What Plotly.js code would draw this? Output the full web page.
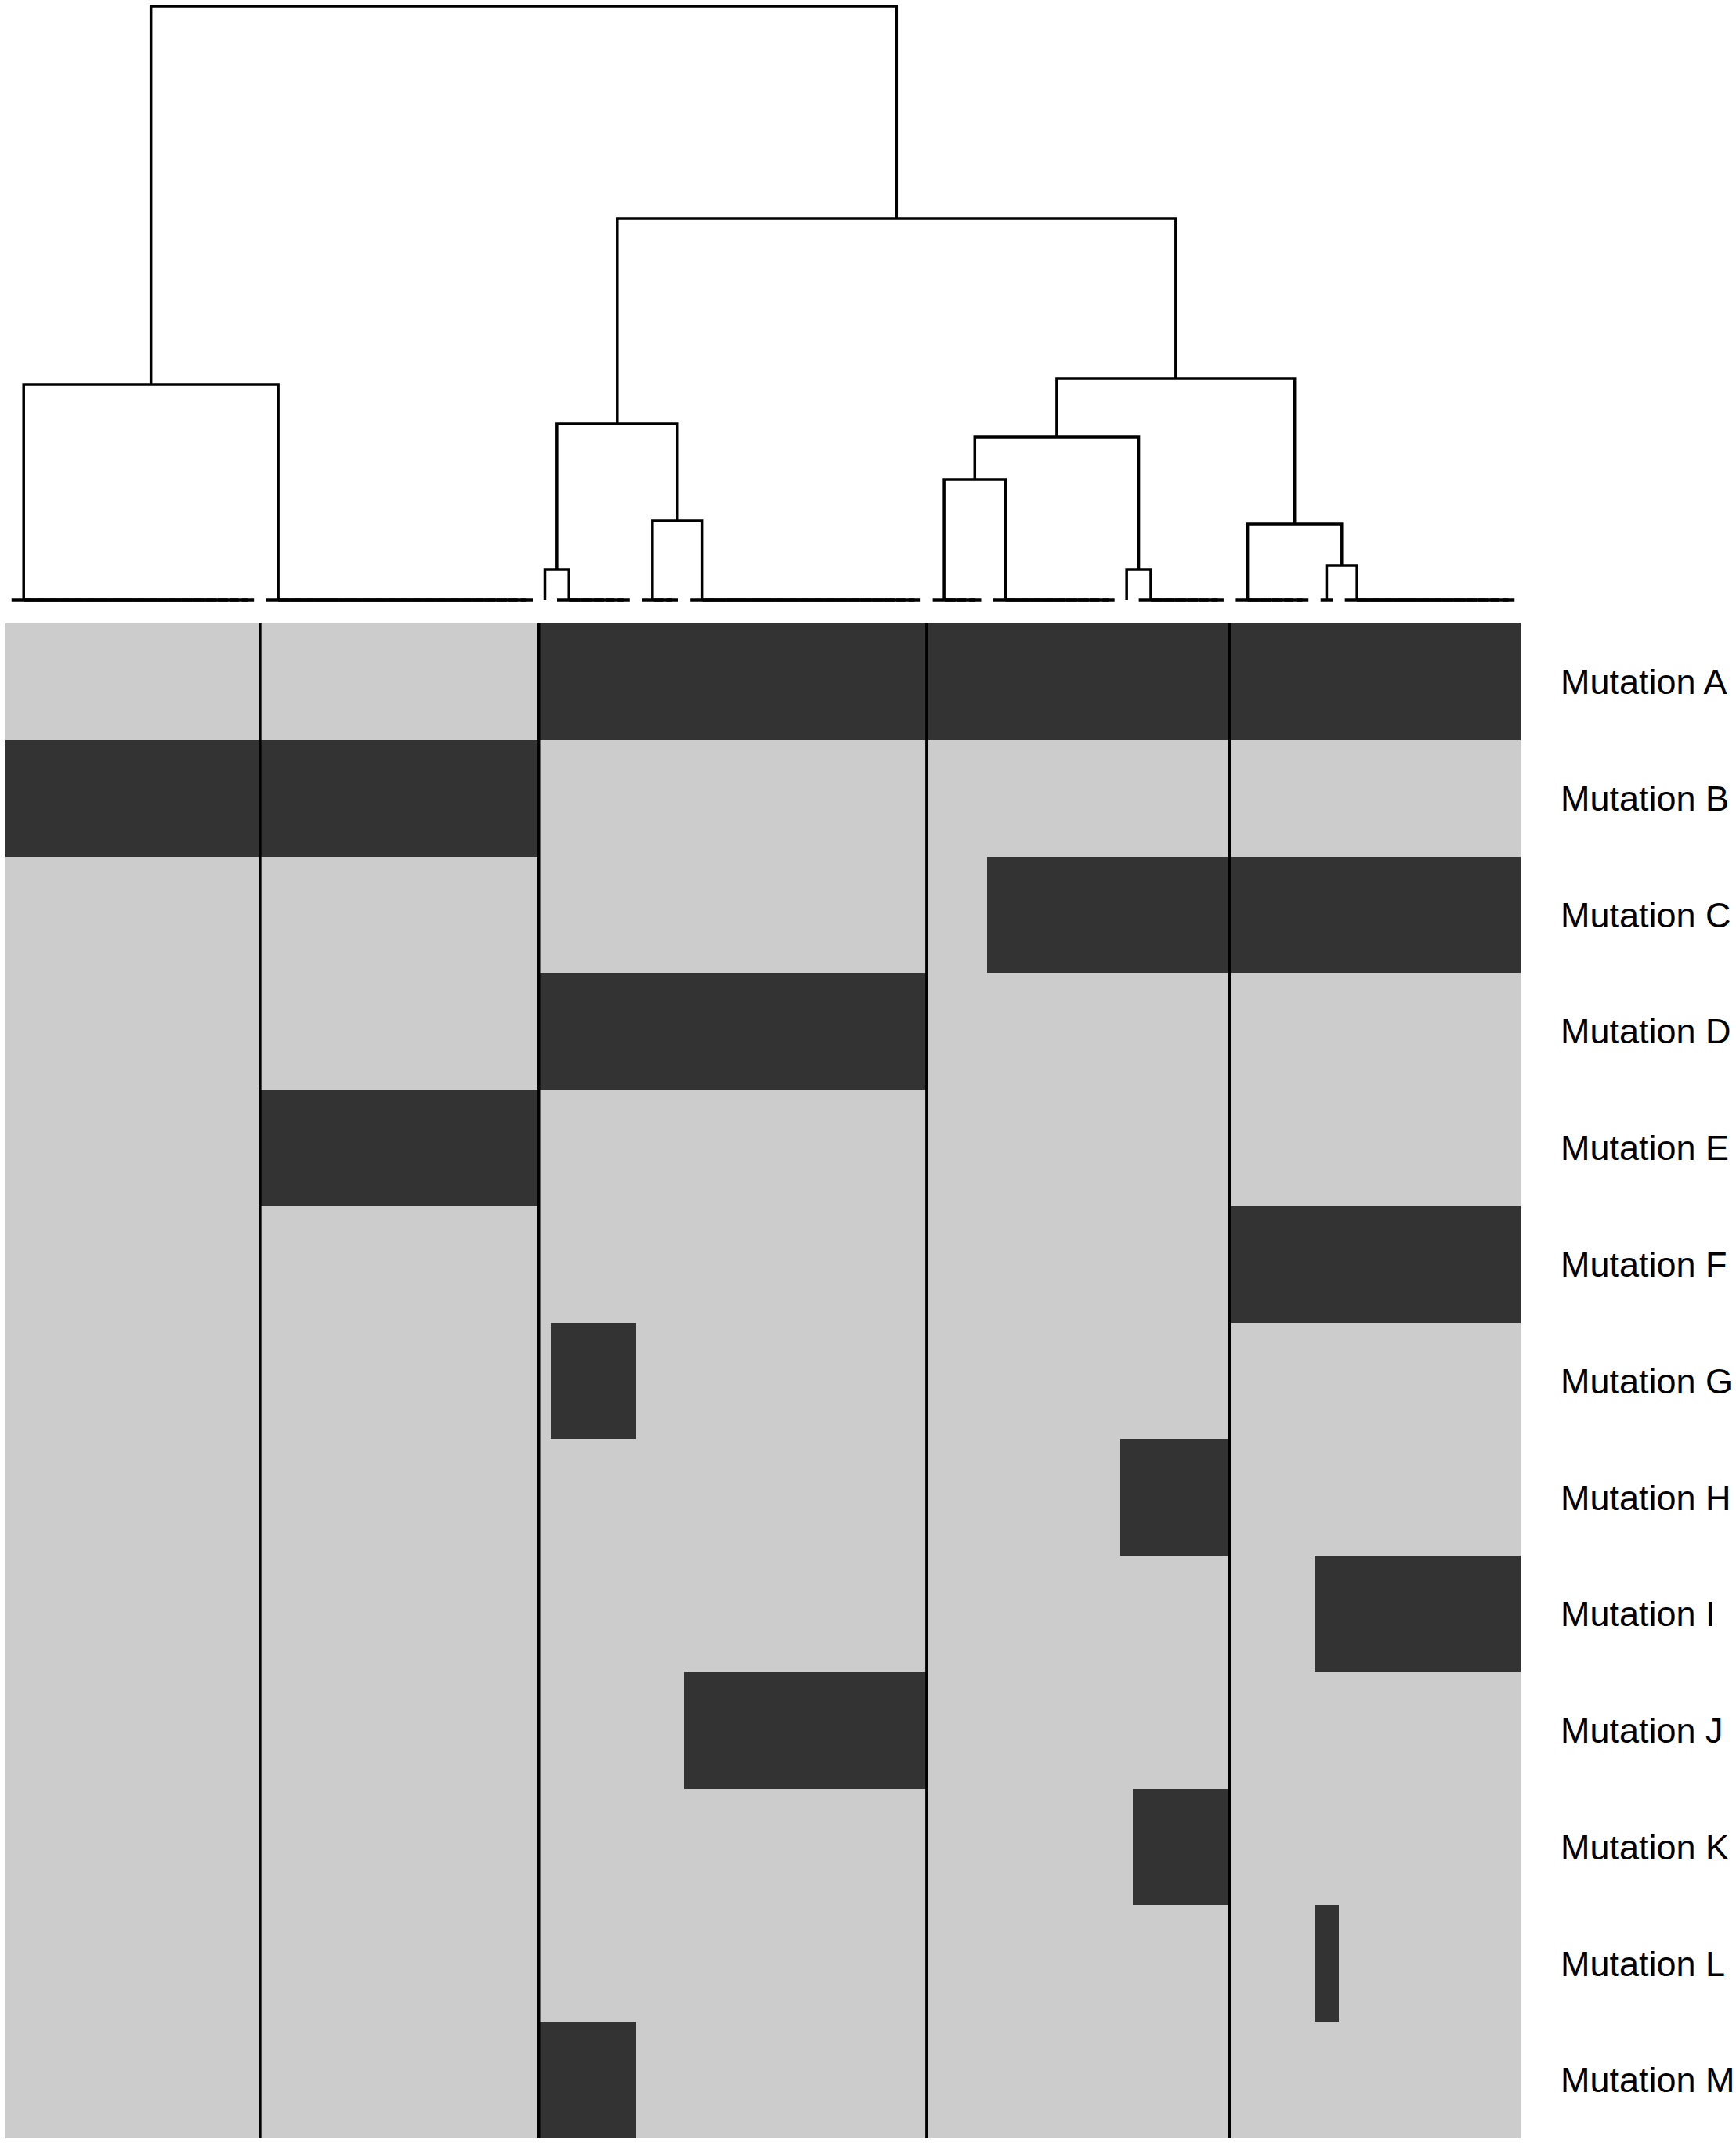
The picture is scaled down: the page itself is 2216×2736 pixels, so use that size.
<!DOCTYPE html>
<html><head><meta charset="utf-8">
<script src="https://cdn.plot.ly/plotly-3.0.1.min.js"></script>
<style>html,body{margin:0;padding:0;background:#fff}</style>
</head><body><div id="chart" style="width:2216px;height:2736px"></div>
<script>
// ---- data ----
const mutations = ['Mutation A','Mutation B','Mutation C','Mutation D','Mutation E','Mutation F','Mutation G',
                   'Mutation H','Mutation I','Mutation J','Mutation K','Mutation L','Mutation M'];
// samples grouped by identical mutation profile, in dendrogram order
const groupSizes = [21, 23, 1, 7, 4, 20, 5, 11, 1, 8, 7, 2, 15];
// 1 = mutated, one value per sample group
const mutA = [0,0,1,1,1,1,1,1,1,1,1,1,1];
const mutB = [1,1,0,0,0,0,0,0,0,0,0,0,0];
const mutC = [0,0,0,0,0,0,0,1,1,1,1,1,1];
const mutD = [0,0,1,1,1,1,0,0,0,0,0,0,0];
const mutE = [0,1,0,0,0,0,0,0,0,0,0,0,0];
const mutF = [0,0,0,0,0,0,0,0,0,0,1,1,1];
const mutG = [0,0,0,1,0,0,0,0,0,0,0,0,0];
const mutH = [0,0,0,0,0,0,0,0,1,1,0,0,0];
const mutI = [0,0,0,0,0,0,0,0,0,0,0,1,1];
const mutJ = [0,0,0,0,0,1,0,0,0,0,0,0,0];
const mutK = [0,0,0,0,0,0,0,0,0,1,0,0,0];
const mutL = [0,0,0,0,0,0,0,0,0,0,0,1,0];
const mutM = [0,0,1,1,0,0,0,0,0,0,0,0,0];
// hierarchical clustering of the groups (hclust style: negative = group, positive = merge)
const mergeLeft   = [-3, -9, -12, -11, -5, -7, 6, 1, -1, 7, 8, 9];
const mergeRight  = [-4, -10, -13, 3, -6, -8, 2, 5, -2, 4, 10, 11];
const mergeHeight = [0.39, 0.39, 0.44, 0.97, 1.01, 1.54, 2.08, 2.25, 2.75, 2.83, 4.87, 7.58];
const nClusters = 5;

// ---- build ----
const profiles = [mutA,mutB,mutC,mutD,mutE,mutF,mutG,mutH,mutI,mutJ,mutK,mutL,mutM];
const nS = groupSizes.reduce((a,b)=>a+b,0);
const groupStart = []; {let s=1; groupSizes.forEach(n=>{groupStart.push(s); s+=n;});}
const xs = Array.from({length:nS},(_,i)=>i+1);
const ys = mutations.map((_,i)=>i);
const z = profiles.map(p=>{const r=[]; p.forEach((v,g)=>{for(let i=0;i<groupSizes[g];i++) r.push(v);}); return r;});

const dx=[], dy=[];
// identical samples merge at height 0 (chain)
const leafPos = groupSizes.map((n,g)=>{
  const first=groupStart[g]; let pos=first+n-1;
  for(let k=first+n-2;k>=first;k--){ dx.push(k,pos,null); dy.push(0,0,null); pos=(k+pos)/2; }
  return pos;
});
const nodePos=[], nodeH=[];
function info(ref){ return ref<0 ? [leafPos[-ref-1],0] : [nodePos[ref-1],nodeH[ref-1]]; }
mergeLeft.forEach((l,i)=>{
  const [x1,h1]=info(l), [x2,h2]=info(mergeRight[i]); const h=mergeHeight[i];
  dx.push(x1,x1,x2,x2,null); dy.push(h1,h,h,h2,null);
  nodePos.push((x1+x2)/2); nodeH.push(h);
});
// cut into clusters
const nM = mergeHeight.length;
const cut = new Set(); for(let i=nM-nClusters+2;i<=nM;i++) cut.add(i);
const clusterOf = new Array(groupSizes.length); let cid=0;
function assign(ref,c){ if(ref<0){clusterOf[-ref-1]=c;return;} assign(mergeLeft[ref-1],c); assign(mergeRight[ref-1],c); }
function walk(ref){ if(ref>0 && cut.has(ref)){ walk(mergeLeft[ref-1]); walk(mergeRight[ref-1]); } else assign(ref,cid++); }
walk(nM);
const sx=[], sy=[];
for(let g=1; g<groupSizes.length; g++){
  if(clusterOf[g]!==clusterOf[g-1]){ const x=groupStart[g]-0.5; sx.push(x,x,null); sy.push(-0.5, mutations.length-0.5, null); }
}

// ---- layout ----
const W=2216, H=2736;
const xDom=[7/W, 1941/W];
const rootH = mergeHeight[nM-1];
const basePx=766, rootPx=8, dBottomPx=780;
const ppu=(basePx-rootPx)/rootH;

const traces = [
  {type:'heatmap', x:xs, y:ys, z:z, zmin:0, zmax:1, showscale:false, hoverinfo:'skip',
   colorscale:[[0,'#CCCCCC'],[1,'#333333']], xaxis:'x', yaxis:'y'},
  {type:'scatter', mode:'lines', x:sx, y:sy, line:{color:'#000', width:3.5}, xaxis:'x', yaxis:'y', hoverinfo:'skip'},
  {type:'scatter', mode:'lines', x:dx, y:dy, line:{color:'#000', width:3.5}, xaxis:'x2', yaxis:'y2', hoverinfo:'skip'}
];
const layout = {
  width:W, height:H, margin:{l:0,r:0,t:0,b:0}, paper_bgcolor:'#fff', plot_bgcolor:'rgba(0,0,0,0)', showlegend:false,
  xaxis:{domain:xDom, range:[0.5,nS+0.5], visible:false, anchor:'y'},
  yaxis:{domain:[6/H,(H-796)/H], range:[mutations.length-0.5,-0.5], side:'right', anchor:'x',
         tickvals:ys, ticktext:mutations, ticks:'', showgrid:false, zeroline:false, showline:false,
         ticklabelstandoff:50, automargin:false,
         tickfont:{family:'Liberation Sans, Arial, sans-serif', size:45, color:'#000'}},
  xaxis2:{domain:xDom, range:[0.5,nS+0.5], visible:false, anchor:'y2'},
  yaxis2:{domain:[(H-dBottomPx)/H,1], range:[-(dBottomPx-basePx)/ppu, basePx/ppu], visible:false, anchor:'x2'}
};
Plotly.newPlot('chart', traces, layout, {staticPlot:true, displayModeBar:false});
</script></body></html>
